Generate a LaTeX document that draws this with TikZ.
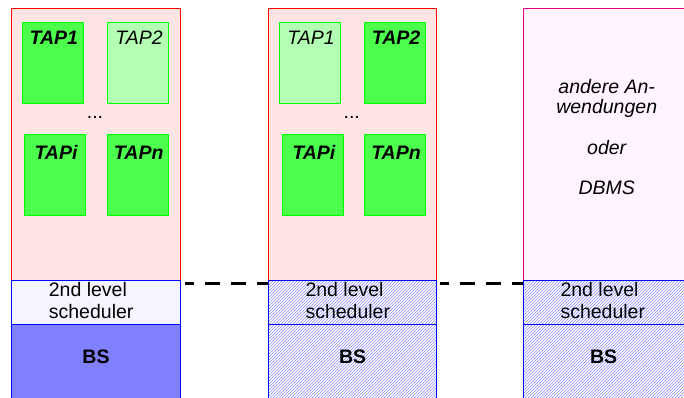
\documentclass[tikz,border=0pt]{standalone}
\usepackage{fontspec}
\setmainfont{Liberation Sans}
\usepackage{tikz}
\usetikzlibrary{patterns,positioning}

\definecolor{appfill}{HTML}{FFE4E4}
\definecolor{otherfill}{HTML}{FFF4FF}
\definecolor{tapgreen}{HTML}{4DFF4D}
\definecolor{tapidle}{HTML}{B3FFB3}
\definecolor{schedfill}{HTML}{F5F5FF}
\definecolor{bsfill}{HTML}{8080FF}
\definecolor{hatchblue}{HTML}{8C8CFF}

\tikzset{
  box/.style={rectangle, inner sep=0pt, outer sep=0pt, line width=1pt},
  app/.style={box, draw=red, fill=appfill, minimum width=168.6pt, minimum height=272pt},
  otherapp/.style={app, draw=magenta, fill=otherfill},
  sched/.style={box, draw=blue, minimum width=168.6pt, minimum height=44pt},
  bs/.style={box, draw=blue, minimum width=168.6pt, minimum height=90pt},
  hatch/.style={pattern=north east lines, pattern color=hatchblue},
  tap/.style={box, draw=green, fill=tapgreen, minimum width=61pt, minimum height=81pt},
  tapoff/.style={tap, fill=tapidle},
  txt/.style={inner sep=0pt, font=\fontsize{19.5}{22.5}\selectfont},
  tapon/.style={txt, anchor=base, font=\fontsize{19.5}{22.5}\selectfont\bfseries\itshape},
  tapname/.style={txt, anchor=base, font=\fontsize{19.5}{22.5}\selectfont\itshape},
  dashline/.style={line width=3pt, dash pattern=on 15pt off 11pt, dash phase=6pt}
}

\begin{document}
\begin{tikzpicture}[x=1pt, y=1pt]
    \useasboundingbox (0,0) rectangle (684,398);
    \clip (0,0) rectangle (684,398);

    % rechner 1
    \node[app] (app1) at (96,253.7) {};
    \node[sched, fill=schedfill] (sched1) at (96,95.7) {};
    \node[bs, fill=bsfill] (bs1) at (96,28.7) {};
    \node[tap] (tap11) at (52.8,335.2) {};
    \node[tapoff] (tap12) at (138,335.2) {};
    \node[tap] (tap1i) at (55,223.2) {};
    \node[tap] (tap1n) at (137.7,223.2) {};
    \node[tapon] at ([xshift=1pt,yshift=-22.7pt]tap11.north) {TAP1};
    \node[tapname] at ([xshift=1pt,yshift=-22.7pt]tap12.north) {TAP2};
    \node[tapon] at ([xshift=1pt,yshift=-25pt]tap1i.north) {TAPi};
    \node[tapon] at ([xshift=1pt,yshift=-25pt]tap1n.north) {TAPn};
    \node[txt, anchor=base] (dots1) at (95,279.3) {...};

    % rechner 2
    \node[app] (app2) at (352.6,253.7) {};
    \node[sched, hatch] (sched2) at (352.6,95.7) {};
    \node[bs, hatch] (bs2) at (352.6,28.7) {};
    \node[tapoff] (tap21) at (310,335.2) {};
    \node[tap] (tap22) at (395,335.2) {};
    \node[tap] (tap2i) at (312.8,223.2) {};
    \node[tap] (tap2n) at (395,223.2) {};
    \node[tapname] at ([xshift=1pt,yshift=-22.7pt]tap21.north) {TAP1};
    \node[tapon] at ([xshift=1pt,yshift=-22.7pt]tap22.north) {TAP2};
    \node[tapon] at ([xshift=1pt,yshift=-25pt]tap2i.north) {TAPi};
    \node[tapon] at ([xshift=1pt,yshift=-25pt]tap2n.north) {TAPn};
    \node[txt, anchor=base] (dots2) at (351.7,279.3) {...};

    % rechner 3
    \node[otherapp] (app3) at (607.6,253.7) {};
    \node[sched, hatch] (sched3) at (607.6,95.7) {};
    \node[bs, hatch] (bs3) at (607.6,28.7) {};
    \node[txt, anchor=north, align=center, font=\fontsize{19.5}{20.2}\selectfont\itshape]
      (other) at (606.7,318.9) {andere An-\\wendungen\\[20.2pt]oder\\[20.2pt]DBMS};

    % scheduler und BS
    \node[txt, anchor=north west, align=left] (st1) at ([xshift=37pt,yshift=-1.5pt]sched1.north west) {2nd level\\scheduler};
    \node[txt, anchor=north west, align=left] (st2) at ([xshift=37pt,yshift=-1.5pt]sched2.north west) {2nd level\\scheduler};
    \node[txt, anchor=north west, align=left] (st3) at ([xshift=37pt,yshift=-1.5pt]sched3.north west) {2nd level\\scheduler};
    \node[txt, font=\fontsize{19.5}{22.5}\selectfont\bfseries] (bst1) at (96,41.3) {BS};
    \node[txt, font=\fontsize{19.5}{22.5}\selectfont\bfseries] (bst2) at (352.7,41.3) {BS};
    \node[txt, font=\fontsize{19.5}{22.5}\selectfont\bfseries] (bst3) at (603.7,41.3) {BS};

    \draw[dashline] ([xshift=5pt,yshift=-3pt]sched1.north east) -- ([yshift=-3pt]sched2.north west);
    \draw[dashline] ([xshift=3pt,yshift=-3pt]sched2.north east) -- ([yshift=-3pt]sched3.north west);
\end{tikzpicture}
\end{document}
